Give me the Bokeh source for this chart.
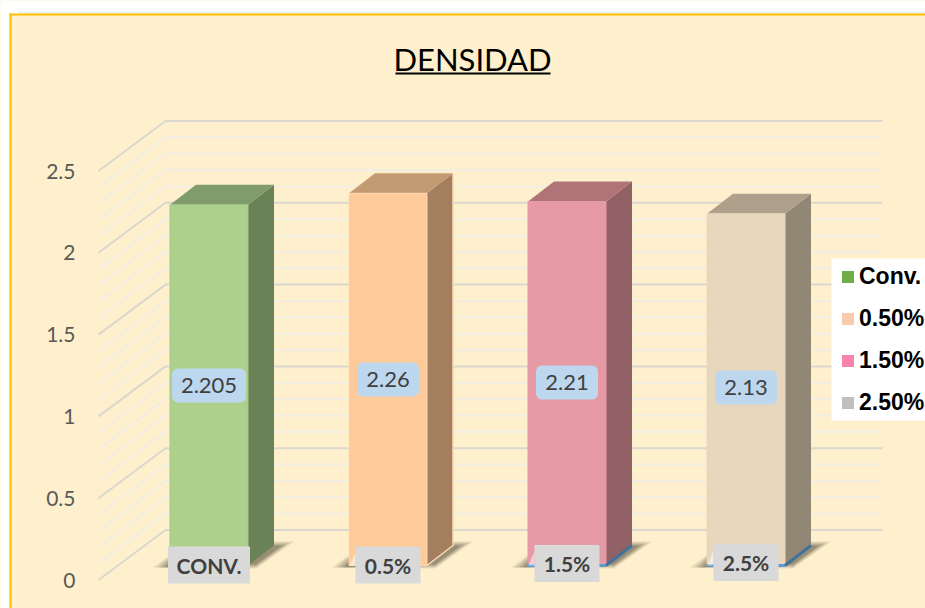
from bokeh.plotting import figure
from bokeh.embed import file_html
from bokeh.resources import INLINE
from bokeh.core.properties import value
from bokeh.models import Range1d, FixedTicker, BoxAnnotation, Legend, LegendItem, Label

# ---- data
title_text = "DENSIDAD"
categories = ["CONV.", "0.5%", "1.5%", "2.5%"]
label_texts = ["2.205", "2.26", "2.21", "2.13"]
bar_heights = [2.205, 2.275, 2.225, 2.15]
legend_labels = ["Conv.", "0.50%", "1.50%", "2.50%"]
y_ticks = [0, 0.5, 1, 1.5, 2, 2.5]
y_tick_labels = ["0", "0.5", "1", "1.5", "2", "2.5"]
minor_ticks = [0.1, 0.2, 0.3, 0.4, 0.6, 0.7, 0.8, 0.9, 1.1, 1.2, 1.3, 1.4,
               1.6, 1.7, 1.8, 1.9, 2.1, 2.2, 2.3, 2.4]

# ---- styles
front = ["#ADD08D", "#FDCB99", "#E69AA6", "#E7D7BC"]
side = ["#6B8257", "#A37F5F", "#916166", "#928775"]
top = ["#819C6B", "#C39B73", "#AF7378", "#AEA08A"]
edge = ["#A5C788", "#FFD9B3", "#E69AA6", "#E7D7BC"]
legend_colors = ["#70AD47", "#F8CBAD", "#F783AC", "#BFBFBF"]
BG = "#FEF0CD"

# ---- layout: scales in page pixels
W, H = 925, 608
X0, XK = 208.5, 179.0
Y0, YK = 579.5, 163.6


def X(px):
    return (px - X0) / XK


def Y(px):
    return (Y0 - px) / YK


BAR_W = 78 / XK
DX, DY = 26 / XK, 20 / YK
BASE = Y(565)
gray_y = [564.5, 564.5, 563, 562]
gray_w = [82, 65, 65, 65]
val_w = [74, 62, 62, 62]
val_y = [385, 379, 382, 387]

p = figure(width=W, height=H, output_backend="svg", toolbar_location=None,
           x_range=Range1d(X(0), X(W)), y_range=Range1d(Y(H), Y(0)),
           x_axis_location=None, min_border=0,
           background_fill_color=BG, border_fill_color=BG, outline_line_color=None)
p.grid.visible = False

ax = p.yaxis[0]
ax.fixed_location = X(86)
ax.ticker = FixedTicker(ticks=y_ticks)
ax.major_label_overrides = {t: s for t, s in zip(y_ticks, y_tick_labels)}
ax.axis_line_color = None
ax.major_tick_line_color = None
ax.minor_tick_line_color = None
ax.major_label_standoff = 5
ax.major_label_text_font = "Lato"
ax.major_label_text_font_size = "21px"
ax.major_label_text_color = "#595959"


def page_box(l, r, t, b, color, level="underlay"):
    p.add_layout(BoxAnnotation(left=l, right=r, top=t, bottom=b, left_units="canvas", right_units="canvas",
                               top_units="canvas", bottom_units="canvas", fill_color=color, fill_alpha=1,
                               line_color=None, level=level))


page_box(0, W, 0, 14, "#FFFFFF")
page_box(0, 9, 0, H, "#FFFFFF")
page_box(18, W, 11, 14, "#F0F0F0")
page_box(9, W, 13, 15, "#FFC000")
page_box(9, 11, 13, H, "#FFC000")
page_box(395, 550, 72, 74, "#000000")
page_box(831, W, 258, 420, "#FFFFFF", level="annotation")

p.add_layout(Label(x=472, y=58, x_units="canvas", y_units="canvas", text=title_text, text_align="center",
                   text_baseline="alphabetic", text_font="Lato", text_font_size="31px", text_color="#000000"))

# perspective gridlines
wall = 50 / YK


def grid_lines(ticks, color):
    xs = [[X(98), X(165), X(882)] for _ in ticks]
    ys = [[t, t + wall, t + wall] for t in ticks]
    p.multi_line(xs, ys, line_color=color, line_width=2)


grid_lines(minor_ticks, "#F1EDE3")
grid_lines(y_ticks, "#DAD7CF")

# floor shadows
for i in range(4):
    left = i - BAR_W / 2
    for inset, alpha in [(0, 0.12), (4, 0.16), (8, 0.2), (12, 0.25)]:
        dxs = [-17 + inset, 5, 105, 124 - inset, 86]
        dys = [-2, 14 - inset / 3, 24 - inset / 3, 24 - inset / 3, -3 + inset / 3]
        p.patch([left + d / XK for d in dxs], [BASE + d / YK for d in dys],
                fill_color="#4A4530", fill_alpha=alpha, line_color=None)

# bars
for i, h in enumerate(bar_heights):
    l, r = i - BAR_W / 2, i + BAR_W / 2
    t = BASE + h
    p.patch([r, r + DX, r + DX, r], [BASE, BASE + DY, t + DY, t], fill_color=side[i], line_color=None)
    p.patch([l, l + DX, r + DX, r], [t, t + DY, t + DY, t], fill_color=top[i], line_color=None)
    p.quad(left=[l], right=[r], bottom=[BASE], top=[t], fill_color=front[i], line_color=edge[i], line_width=1)
    if i == 1:
        p.line([r, r + DX, r + DX], [BASE, BASE + DY, t + DY], line_color=edge[i], line_width=1.5)
    if i >= 2:
        p.line([l, r], [BASE, BASE], line_color="#5B9BD5", line_width=3)
        p.line([r, r + DX], [BASE, BASE + DY], line_color="#41719C", line_width=3)

# value labels
for i, h in enumerate(bar_heights):
    hw = val_w[i] / 2 / XK
    c = Y(val_y[i])
    p.quad(left=[i - hw], right=[i + hw], bottom=[c - 17 / YK], top=[c + 17 / YK],
           fill_color="#BDD7EE", line_color=None, border_radius=6)
    p.text([i], [c], text=[label_texts[i]], text_align="center", text_baseline="middle",
           text_font=value("Lato"), text_font_size="22px", text_color="#404040")

# category labels
for i, name in enumerate(categories):
    hw = gray_w[i] / 2 / XK
    c = Y(gray_y[i])
    if i > 0:
        p.patch([i - hw, i - hw, i - hw - 6 / XK], [c + 12 / YK, BASE, BASE],
                fill_color="#FFFFFF", fill_alpha=0.55, line_color=None)
    p.quad(left=[i - hw], right=[i + hw], bottom=[c - 18.5 / YK], top=[c + 18.5 / YK],
           fill_color="#D9D9D9", line_color=None)
    p.text([i], [c], text=[name], text_align="center", text_baseline="middle",
           text_font=value("Lato"), text_font_style="bold", text_font_size="21px", text_color="#404040")

# legend (swatch renderers sit off the visible range)
items = []
for lab, col in zip(legend_labels, legend_colors):
    r = p.quad(left=[50], right=[51], bottom=[50], top=[51], fill_color=col, line_color=None)
    items.append(LegendItem(label=lab, renderers=[r]))
leg = Legend(items=items, location=(840, H - 417), orientation="vertical",
             background_fill_color="#FFFFFF", background_fill_alpha=1, border_line_color=None,
             label_text_font="Liberation Sans", label_text_font_style="bold", label_text_font_size="23px",
             label_text_color="#000000", glyph_width=15, glyph_height=15, label_height=30,
             spacing=12, padding=3, margin=0, label_standoff=4)
p.add_layout(leg, "center")

open("out.html", "w").write(file_html(p, INLINE))
